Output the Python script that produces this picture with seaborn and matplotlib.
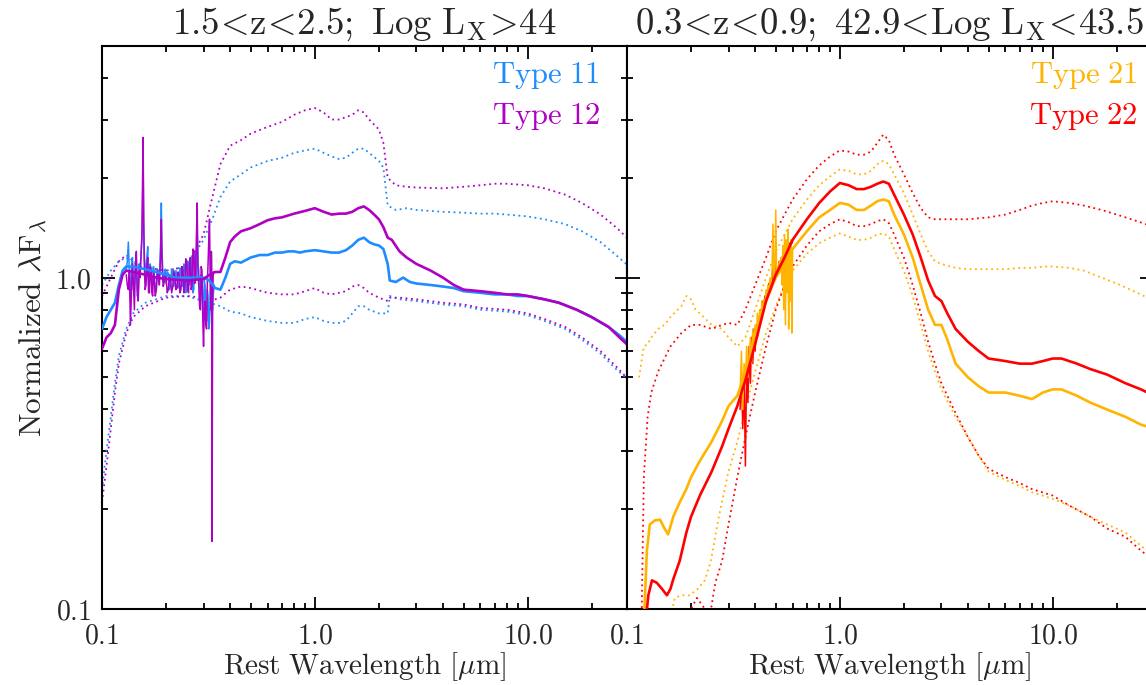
import matplotlib
matplotlib.use("Agg")
import matplotlib.pyplot as plt
from matplotlib.ticker import FixedLocator, FixedFormatter, LogLocator, NullFormatter
import seaborn as sns

# ---------------- Panel 1: 1.5<z<2.5, Log Lx > 44 ----------------
t11_wave = [0.10, 0.105, 0.11, 0.115, 0.12, 0.125, 0.13, 0.14, 0.16, 0.18, 0.2, 0.22, 0.25, 0.28,
            0.30, 0.32, 0.34, 0.36, 0.38, 0.40, 0.42, 0.45, 0.50, 0.55, 0.60, 0.65, 0.70, 0.75,
            0.80, 0.85, 0.90, 1.0, 1.1, 1.2, 1.3, 1.4, 1.5, 1.6, 1.7, 1.8, 1.9, 2.0, 2.1, 2.2,
            2.25, 2.4, 2.6, 2.8, 3.0, 3.5, 4.0, 4.5, 5.0, 6.0, 7.0, 8.0, 9.0, 10, 12, 14, 17,
            20, 24, 27, 30]
t11_mean = [0.70, 0.76, 0.80, 0.84, 0.95, 1.05, 1.08, 1.08, 1.06, 1.04, 1.02, 1.00, 1.00, 1.00,
            1.00, 0.98, 0.93, 0.92, 1.00, 1.10, 1.12, 1.11, 1.15, 1.17, 1.17, 1.19, 1.19, 1.20,
            1.20, 1.19, 1.20, 1.21, 1.20, 1.19, 1.19, 1.21, 1.25, 1.30, 1.32, 1.28, 1.26, 1.25,
            1.22, 1.10, 0.98, 0.97, 1.00, 0.97, 0.96, 0.95, 0.94, 0.93, 0.91, 0.90, 0.89, 0.89,
            0.88, 0.88, 0.86, 0.84, 0.80, 0.76, 0.71, 0.67, 0.63]

t12_wave = [0.10, 0.105, 0.11, 0.115, 0.12, 0.125, 0.13, 0.14, 0.16, 0.18, 0.2, 0.25, 0.30, 0.32,
            0.34, 0.36, 0.38, 0.40, 0.42, 0.45, 0.50, 0.55, 0.60, 0.65, 0.70, 0.80, 0.90, 1.0,
            1.1, 1.2, 1.3, 1.4, 1.5, 1.6, 1.7, 1.8, 1.9, 2.0, 2.1, 2.2, 2.3, 2.5, 2.7, 3.0, 3.5,
            4.0, 4.5, 5.0, 6.0, 7.0, 8.0, 9.0, 10, 12, 14, 17, 20, 24, 27, 30]
t12_mean = [0.61, 0.66, 0.68, 0.72, 0.92, 1.02, 1.05, 1.04, 1.02, 1.00, 0.99, 0.98, 0.99, 1.02,
            1.04, 1.04, 1.15, 1.28, 1.33, 1.38, 1.41, 1.45, 1.49, 1.51, 1.52, 1.56, 1.59, 1.62,
            1.58, 1.55, 1.56, 1.56, 1.58, 1.62, 1.64, 1.60, 1.55, 1.50, 1.42, 1.32, 1.30, 1.20,
            1.15, 1.10, 1.05, 1.00, 0.95, 0.92, 0.91, 0.90, 0.89, 0.89, 0.88, 0.86, 0.84, 0.80,
            0.76, 0.71, 0.66, 0.62]

t11_hi_wave = [0.10, 0.11, 0.12, 0.13, 0.15, 0.2, 0.25, 0.3, 0.33, 0.36, 0.4, 0.45, 0.5, 0.6, 0.7,
               0.8, 0.9, 1.0, 1.1, 1.2, 1.3, 1.4, 1.5, 1.6, 1.7, 1.8, 2.0, 2.1, 2.2, 2.4, 2.7, 3.0,
               4, 5, 6, 7, 8, 10, 12, 15, 18, 22, 26, 30]
t11_hi = [0.95, 1.05, 1.12, 1.15, 1.08, 1.05, 1.08, 1.30, 1.50, 1.75, 1.95, 2.05, 2.15, 2.25, 2.30,
          2.38, 2.42, 2.45, 2.38, 2.32, 2.28, 2.30, 2.38, 2.45, 2.45, 2.38, 2.25, 2.15, 1.65, 1.60,
          1.62, 1.60, 1.58, 1.57, 1.56, 1.56, 1.55, 1.53, 1.50, 1.45, 1.38, 1.28, 1.17, 1.08]

t12_hi_wave = t11_hi_wave
t12_hi = [0.88, 1.00, 1.12, 1.17, 1.08, 1.05, 1.08, 1.35, 1.75, 2.20, 2.50, 2.60, 2.72, 2.85, 2.95,
          3.10, 3.20, 3.25, 3.15, 3.00, 3.00, 3.05, 3.10, 3.20, 3.15, 3.00, 2.80, 2.55, 2.00, 1.90,
          1.88, 1.87, 1.86, 1.88, 1.90, 1.92, 1.92, 1.90, 1.86, 1.78, 1.68, 1.55, 1.42, 1.30]

lo_wave_1 = [0.10, 0.105, 0.11, 0.115, 0.12, 0.13, 0.14, 0.16, 0.2, 0.25, 0.3, 0.34, 0.36, 0.4,
             0.45, 0.5, 0.6, 0.7, 0.8, 0.9, 1.0, 1.1, 1.2, 1.3, 1.4, 1.5, 1.6, 1.7, 1.8, 2.0, 2.2,
             2.25, 2.5, 3, 4, 5, 6, 8, 10, 12, 15, 18, 22, 26, 30]
t11_lo = [0.23, 0.30, 0.38, 0.48, 0.58, 0.70, 0.78, 0.84, 0.88, 0.88, 0.85, 0.83, 0.82, 0.79,
          0.78, 0.76, 0.74, 0.73, 0.73, 0.75, 0.76, 0.74, 0.73, 0.73, 0.74, 0.78, 0.82, 0.82, 0.80,
          0.78, 0.78, 0.88, 0.86, 0.85, 0.83, 0.82, 0.80, 0.79, 0.77, 0.74, 0.70, 0.65, 0.59, 0.53,
          0.49]
t12_lo = [0.21, 0.27, 0.35, 0.45, 0.55, 0.68, 0.76, 0.82, 0.87, 0.88, 0.87, 0.86, 0.87, 0.92,
          0.94, 0.93, 0.90, 0.89, 0.89, 0.91, 0.93, 0.90, 0.89, 0.90, 0.91, 0.94, 0.95, 0.93, 0.90,
          0.87, 0.85, 0.87, 0.87, 0.86, 0.84, 0.83, 0.81, 0.80, 0.78, 0.75, 0.71, 0.66, 0.60, 0.54,
          0.49]

# rest-frame UV spectra (emission-line region)
uv_wave = [0.1300, 0.1315, 0.1330, 0.1345, 0.1360, 0.1375, 0.1390, 0.1405, 0.1420, 0.1435,
           0.1450, 0.1465, 0.1480, 0.1495, 0.1510, 0.1525, 0.1540, 0.1550, 0.1560, 0.1570,
           0.1580, 0.1595, 0.1610, 0.1625, 0.1640, 0.1655, 0.1670, 0.1685, 0.1700, 0.1715,
           0.1730, 0.1745, 0.1760, 0.1780, 0.1800, 0.1820, 0.1840, 0.1860, 0.1880, 0.1890,
           0.1900, 0.1910, 0.1920, 0.1940, 0.1960, 0.1980, 0.2000, 0.2025, 0.2050, 0.2075,
           0.2100, 0.2125, 0.2150, 0.2175, 0.2200, 0.2225, 0.2250, 0.2275, 0.2300, 0.2325,
           0.2350, 0.2375, 0.2400, 0.2425, 0.2450, 0.2475, 0.2500, 0.2525, 0.2550, 0.2575,
           0.2600, 0.2625, 0.2650, 0.2675, 0.2700, 0.2725, 0.2750, 0.2775, 0.2800, 0.2825,
           0.2850, 0.2875, 0.2900, 0.2925, 0.2950, 0.2975, 0.3000, 0.3025, 0.3050, 0.3075,
           0.3100, 0.3125, 0.3150, 0.3175, 0.3200, 0.3225, 0.3250, 0.3265, 0.3280, 0.3290,
           0.3310, 0.3330, 0.3350, 0.3370]
t11_uv = [1.05, 1.12, 1.28, 1.02, 0.85, 1.08, 1.15, 0.92, 0.95, 1.12,
          1.10, 0.88, 0.90, 1.10, 1.05, 1.18, 1.30, 1.60, 2.25, 1.45,
          1.20, 1.00, 1.08, 1.15, 1.24, 0.96, 0.98, 1.10, 1.06, 0.92,
          0.95, 1.08, 1.02, 0.90, 0.93, 1.06, 1.05, 0.98, 1.20, 1.35,
          1.68, 1.30, 1.15, 0.97, 1.00, 1.06, 0.96, 1.04, 1.03, 0.92,
          0.95, 1.06, 1.02, 0.94, 0.98, 1.05, 1.01, 0.93, 0.95, 1.07,
          1.05, 0.94, 0.97, 1.10, 1.08, 0.90, 0.93, 1.12, 1.10, 0.95,
          0.98, 1.15, 1.12, 0.90, 0.92, 1.18, 1.20, 1.00, 1.40, 1.10,
          1.05, 0.88, 0.85, 1.02, 1.00, 0.82, 0.78, 0.98, 0.95, 0.80,
          0.74, 0.92, 0.88, 0.70, 0.73, 0.90, 0.95, 0.80, 0.76, 0.78,
          0.80, 0.88, 0.92, 0.95]
t12_uv = [1.02, 0.95, 0.92, 1.05, 0.72, 0.90, 1.10, 0.95, 0.80, 1.08,
          1.20, 0.92, 0.85, 1.05, 1.00, 1.15, 1.35, 1.90, 2.65, 1.50,
          1.10, 0.92, 0.95, 1.08, 1.15, 0.90, 0.90, 1.08, 1.05, 0.90,
          0.88, 1.04, 1.00, 0.88, 0.92, 1.05, 1.02, 0.95, 1.12, 1.25,
          1.50, 1.20, 1.05, 0.94, 0.97, 1.03, 1.00, 0.90, 0.92, 1.02,
          0.98, 0.90, 0.94, 1.05, 1.00, 0.92, 0.93, 1.04, 1.02, 0.90,
          0.92, 1.08, 1.05, 0.90, 0.95, 1.14, 1.12, 0.92, 0.90, 1.10,
          1.15, 0.92, 0.95, 1.22, 1.20, 0.96, 1.00, 1.30, 1.68, 1.05,
          0.95, 0.82, 0.80, 1.08, 1.05, 0.75, 0.62, 0.80, 0.85, 0.72,
          0.70, 0.95, 1.10, 1.30, 1.50, 0.95, 0.80, 1.20, 1.05, 0.16,
          0.85, 1.02, 1.04, 1.04]

# ---------------- Panel 2: 0.3<z<0.9, 42.9<Log Lx<43.5 ----------------
t21_wave = [0.120, 0.124, 0.128, 0.135, 0.143, 0.150, 0.156, 0.165, 0.177, 0.19, 0.2, 0.22, 0.25,
            0.28, 0.30, 0.33, 0.36, 0.40, 0.45, 0.5, 0.55, 0.6, 0.7, 0.8, 0.9, 1.0, 1.1, 1.2,
            1.3, 1.4, 1.5, 1.6, 1.7, 1.8, 2.0, 2.2, 2.4, 2.6, 2.8, 3.0, 3.2, 3.5, 4, 4.5, 5, 6,
            7, 8, 9, 10, 11, 13, 15, 18, 22, 26, 30]
t21_mean = [0.09, 0.15, 0.18, 0.185, 0.186, 0.175, 0.168, 0.19, 0.21, 0.23, 0.25, 0.28, 0.32,
            0.37, 0.41, 0.44, 0.52, 0.65, 0.85, 1.0, 1.1, 1.22, 1.38, 1.52, 1.60, 1.68, 1.66, 1.60,
            1.60, 1.65, 1.70, 1.72, 1.70, 1.55, 1.35, 1.15, 0.95, 0.80, 0.72, 0.72, 0.65, 0.55,
            0.50, 0.47, 0.45, 0.45, 0.44, 0.43, 0.45, 0.46, 0.46, 0.44, 0.42, 0.40, 0.38, 0.36,
            0.35]

t22_wave = [0.122, 0.126, 0.131, 0.138, 0.146, 0.154, 0.160, 0.165, 0.177, 0.19, 0.2, 0.22, 0.25,
            0.28, 0.30, 0.33, 0.36, 0.40, 0.45, 0.5, 0.55, 0.6, 0.7, 0.8, 0.9, 1.0, 1.1, 1.2,
            1.3, 1.4, 1.5, 1.6, 1.7, 1.8, 2.0, 2.2, 2.4, 2.6, 2.8, 3.0, 3.2, 3.5, 4, 4.5, 5, 6,
            7, 8, 9, 10, 11, 13, 15, 18, 22, 26, 30]
t22_mean = [0.09, 0.11, 0.122, 0.12, 0.115, 0.11, 0.115, 0.123, 0.14, 0.17, 0.19, 0.22, 0.26,
            0.31, 0.35, 0.41, 0.49, 0.63, 0.85, 1.02, 1.15, 1.30, 1.50, 1.68, 1.82, 1.93, 1.90,
            1.85, 1.85, 1.88, 1.92, 1.95, 1.92, 1.78, 1.55, 1.35, 1.15, 0.98, 0.88, 0.85, 0.78,
            0.70, 0.64, 0.60, 0.57, 0.56, 0.55, 0.55, 0.56, 0.57, 0.57, 0.55, 0.53, 0.51, 0.48,
            0.46, 0.44]

t21_hi_wave = [0.114, 0.118, 0.12, 0.125, 0.13, 0.14, 0.15, 0.16, 0.18, 0.19, 0.20, 0.21, 0.22,
               0.25, 0.28, 0.30, 0.33, 0.36, 0.40, 0.45, 0.5, 0.55, 0.6, 0.7, 0.8, 0.9, 1.0, 1.1,
               1.2, 1.3, 1.4, 1.5, 1.6, 1.7, 1.8, 2.0, 2.2, 2.4, 2.6, 2.8, 3.0, 3.5, 4, 5, 6, 7,
               8, 9, 10, 12, 14, 17, 20, 25, 30]
t21_hi = [0.50, 0.58, 0.62, 0.63, 0.66, 0.70, 0.72, 0.76, 0.82, 0.88, 0.86, 0.80, 0.78,
          0.72, 0.70, 0.66, 0.62, 0.66, 0.80, 1.00, 1.20, 1.35, 1.50, 1.72, 1.90, 2.02, 2.12, 2.10,
          2.05, 2.05, 2.10, 2.20, 2.25, 2.20, 2.05, 1.80, 1.55, 1.35, 1.20, 1.12, 1.10, 1.07, 1.06,
          1.06, 1.06, 1.07, 1.07, 1.08, 1.08, 1.07, 1.05, 1.00, 0.96, 0.90, 0.85]

t22_hi_wave = [0.117, 0.12, 0.125, 0.13, 0.14, 0.15, 0.16, 0.18, 0.2, 0.22, 0.25, 0.28, 0.30,
               0.33, 0.36, 0.40, 0.45, 0.5, 0.55, 0.6, 0.7, 0.8, 0.9, 1.0, 1.1, 1.2, 1.3, 1.4,
               1.5, 1.6, 1.7, 1.8, 2.0, 2.2, 2.4, 2.6, 2.8, 3.0, 3.5, 4, 5, 6, 7, 8, 9, 10, 12,
               14, 17, 20, 25, 30]
t22_hi = [0.09, 0.25, 0.38, 0.45, 0.52, 0.57, 0.62, 0.68, 0.72, 0.72, 0.70, 0.72, 0.73,
          0.72, 0.80, 0.95, 1.15, 1.38, 1.55, 1.72, 1.98, 2.18, 2.32, 2.42, 2.40, 2.35, 2.35, 2.40,
          2.55, 2.70, 2.60, 2.35, 2.05, 1.80, 1.62, 1.52, 1.50, 1.50, 1.50, 1.50, 1.52, 1.55, 1.60,
          1.65, 1.68, 1.70, 1.68, 1.65, 1.60, 1.55, 1.48, 1.42]

t21_lo_wave = [0.160, 0.168, 0.18, 0.197, 0.215, 0.232, 0.248, 0.27, 0.30, 0.33, 0.36, 0.40,
               0.45, 0.5, 0.55, 0.6, 0.7, 0.8, 0.9, 1.0, 1.1, 1.2, 1.3, 1.4, 1.5, 1.6, 1.7, 1.8,
               2.0, 2.2, 2.4, 2.6, 2.8, 3.0, 3.5, 4, 4.5, 5, 6, 7, 8, 10, 12, 15, 18, 22, 26, 30]
t21_lo = [0.095, 0.108, 0.11, 0.11, 0.115, 0.122, 0.14, 0.19, 0.26, 0.32, 0.40, 0.52,
          0.68, 0.82, 0.95, 1.05, 1.18, 1.27, 1.32, 1.36, 1.33, 1.30, 1.30, 1.32, 1.35, 1.36,
          1.33, 1.22, 1.05, 0.88, 0.72, 0.60, 0.52, 0.46, 0.38, 0.33, 0.29, 0.26, 0.245, 0.235,
          0.225, 0.215, 0.205, 0.19, 0.18, 0.17, 0.155, 0.145]

t22_lo_wave = [0.195, 0.20, 0.213, 0.225, 0.245, 0.26, 0.28, 0.30, 0.33, 0.36, 0.40, 0.45, 0.5,
               0.55, 0.6, 0.7, 0.8, 0.9, 1.0, 1.1, 1.2, 1.3, 1.4, 1.5, 1.6, 1.7, 1.8, 2.0, 2.2,
               2.4, 2.6, 2.8, 3.0, 3.5, 4, 4.5, 5, 6, 7, 8, 10, 12, 15, 18, 22, 26, 30]
t22_lo = [0.09, 0.10, 0.108, 0.103, 0.095, 0.12, 0.14, 0.18, 0.25, 0.33, 0.45, 0.62, 0.80,
          0.95, 1.08, 1.25, 1.38, 1.45, 1.50, 1.47, 1.43, 1.43, 1.45, 1.48, 1.50, 1.46, 1.35,
          1.15, 0.95, 0.78, 0.64, 0.55, 0.48, 0.39, 0.33, 0.29, 0.265, 0.25, 0.24, 0.23, 0.22,
          0.205, 0.19, 0.175, 0.165, 0.15, 0.14]

# rest-frame optical spectra (host + narrow lines)
opt_wave = [0.34, 0.345, 0.35, 0.355, 0.36, 0.365, 0.37, 0.375, 0.38, 0.385, 0.39, 0.395, 0.40,
            0.405, 0.41, 0.415, 0.42, 0.425, 0.43, 0.435, 0.44, 0.445, 0.45, 0.455, 0.46, 0.465,
            0.47, 0.475, 0.48, 0.485, 0.49, 0.495, 0.50, 0.505, 0.51, 0.515, 0.52, 0.525, 0.53,
            0.535, 0.54, 0.545, 0.55, 0.555, 0.56, 0.565, 0.57, 0.575, 0.58, 0.585, 0.59, 0.595,
            0.60]
t21_opt = [0.45, 0.60, 0.40, 0.55, 0.48, 0.62, 0.50, 0.58, 0.66, 0.55, 0.70, 0.62, 0.72,
           0.66, 0.78, 0.70, 0.80, 0.74, 0.85, 0.78, 0.86, 0.82, 0.92, 0.85, 0.95, 0.90,
           1.00, 0.94, 1.02, 1.45, 0.98, 1.05, 1.60, 1.02, 1.08, 1.03, 1.12, 1.05, 1.15,
           0.95, 1.25, 0.80, 1.35, 0.72, 1.30, 0.90, 1.40, 0.70, 1.25, 0.85, 1.30, 0.68,
           1.20]
t22_opt = [0.40, 0.52, 0.35, 0.50, 0.27, 0.55, 0.42, 0.62, 0.48, 0.66, 0.55, 0.70, 0.60,
           0.72, 0.66, 0.76, 0.72, 0.80, 0.76, 0.85, 0.80, 0.88, 0.84, 0.90, 0.88, 0.96,
           0.92, 0.98, 0.95, 1.10, 1.00, 1.04, 1.15, 1.02, 1.08, 1.05, 1.12, 1.08, 1.15,
           1.10, 1.18, 1.12, 1.20, 1.15, 1.22, 1.18, 1.25, 1.20, 1.27, 1.24, 1.29, 1.27,
           1.30]

titles = [r"$\mathrm{1.5\!<\!z\!<\!2.5;\ Log\ L_X\!>\!44}$",
          r"$\mathrm{0.3\!<\!z\!<\!0.9;\ 42.9\!<\!Log\ L_X\!<\!43.5}$"]
x_ticks = [0.1, 1.0, 10.0]
x_ticklabels = [r"$\mathrm{0.1}$", r"$\mathrm{1.0}$", r"$\mathrm{10.0}$"]
y_ticks = [0.1, 1.0]
y_ticklabels = [r"$\mathrm{0.1}$", r"$\mathrm{1.0}$"]

C11, C12, C21, C22 = "#1e8cff", "#b000c4", "#ffb400", "#ff0000"

sns.set_style("ticks")
plt.rcParams["mathtext.fontset"] = "cm"
plt.rcParams["font.family"] = ["DejaVu Serif"]

W, H = 1146, 685
fig = plt.figure(figsize=(W / 100, H / 100), dpi=100)
ax_w = 525 / W
ax_b = (H - 609) / H
ax_h = (609 - 46) / H
ax1 = fig.add_axes([102 / W, ax_b, ax_w, ax_h])
ax2 = fig.add_axes([627 / W, ax_b, ax_w, ax_h])

DOT = (0, (1.0, 2.0))


def line(ax, x, y, color, lw, ls="-", z=2):
    sns.lineplot(x=x, y=y, ax=ax, color=color, lw=lw, linestyle=ls,
                 estimator=None, sort=False, zorder=z)


for ax in (ax1, ax2):
    ax.set_xscale("log")
    ax.set_yscale("log")

# left panel
line(ax1, t11_hi_wave, t11_hi, C11, 1.3, DOT)
line(ax1, lo_wave_1, t11_lo, C11, 1.3, DOT)
line(ax1, t12_hi_wave, t12_hi, C12, 1.3, DOT)
line(ax1, lo_wave_1, t12_lo, C12, 1.3, DOT)
line(ax1, uv_wave, t11_uv, C11, 1.1, z=3)
line(ax1, uv_wave, t12_uv, C12, 1.1, z=3)
line(ax1, t11_wave, t11_mean, C11, 1.9, z=4)
line(ax1, t12_wave, t12_mean, C12, 1.9, z=4)

# right panel
line(ax2, t21_hi_wave, t21_hi, C21, 1.3, DOT)
line(ax2, t21_lo_wave, t21_lo, C21, 1.3, DOT)
line(ax2, t22_hi_wave, t22_hi, C22, 1.3, DOT)
line(ax2, t22_lo_wave, t22_lo, C22, 1.3, DOT)
line(ax2, opt_wave, t22_opt, C22, 1.1, z=3)
line(ax2, opt_wave, t21_opt, C21, 1.1, z=3)
line(ax2, t21_wave, t21_mean, C21, 1.9, z=4)
line(ax2, t22_wave, t22_mean, C22, 1.9, z=4)

legend_text = [("Type 11", "Type 12", C11, C12, 0.949), ("Type 21", "Type 22", C21, C22, 0.973)]

for i, ax in enumerate((ax1, ax2)):
    ax.set_xlim(0.1, 29.3)
    ax.set_ylim(0.1, 5.0)
    ax.xaxis.set_major_locator(FixedLocator(x_ticks))
    ax.xaxis.set_major_formatter(FixedFormatter(x_ticklabels))
    ax.xaxis.set_minor_locator(LogLocator(base=10, subs=range(2, 10), numticks=20))
    ax.xaxis.set_minor_formatter(NullFormatter())
    ax.yaxis.set_major_locator(FixedLocator(y_ticks))
    ax.yaxis.set_minor_locator(LogLocator(base=10, subs=range(2, 10), numticks=20))
    ax.yaxis.set_minor_formatter(NullFormatter())
    if i == 0:
        ax.yaxis.set_major_formatter(FixedFormatter(y_ticklabels))
    else:
        ax.yaxis.set_major_formatter(NullFormatter())
    ax.tick_params(which="both", direction="in", top=True, right=True, width=1.3,
                   color="black", labelsize=20)
    ax.tick_params(which="major", length=9)
    ax.tick_params(which="minor", length=4.5)
    ax.tick_params(axis="x", pad=10)
    ax.tick_params(axis="y", pad=8)
    for s in ax.spines.values():
        s.set_linewidth(1.5)
        s.set_color("black")
    ax.set_xlabel(r"$\mathrm{Rest\ Wavelength\ [}\mu\mathrm{m]}$", fontsize=21, labelpad=0.5)
    ax.set_title(titles[i], fontsize=26.5, pad=9)
    t1, t2, c1, c2, xr = legend_text[i]
    ax.text(xr, 0.947, r"$\mathrm{" + t1.replace(" ", r"\ ") + "}$", color=c1,
            transform=ax.transAxes, ha="right", va="center", fontsize=22)
    ax.text(xr, 0.874, r"$\mathrm{" + t2.replace(" ", r"\ ") + "}$", color=c2,
            transform=ax.transAxes, ha="right", va="center", fontsize=22)

ax1.set_ylabel(r"$\mathrm{Normalized}\ \lambda\mathrm{F}_\lambda$", fontsize=22.5, labelpad=4)
ax2.set_ylabel("")

fig.savefig("out.png", dpi=100)
